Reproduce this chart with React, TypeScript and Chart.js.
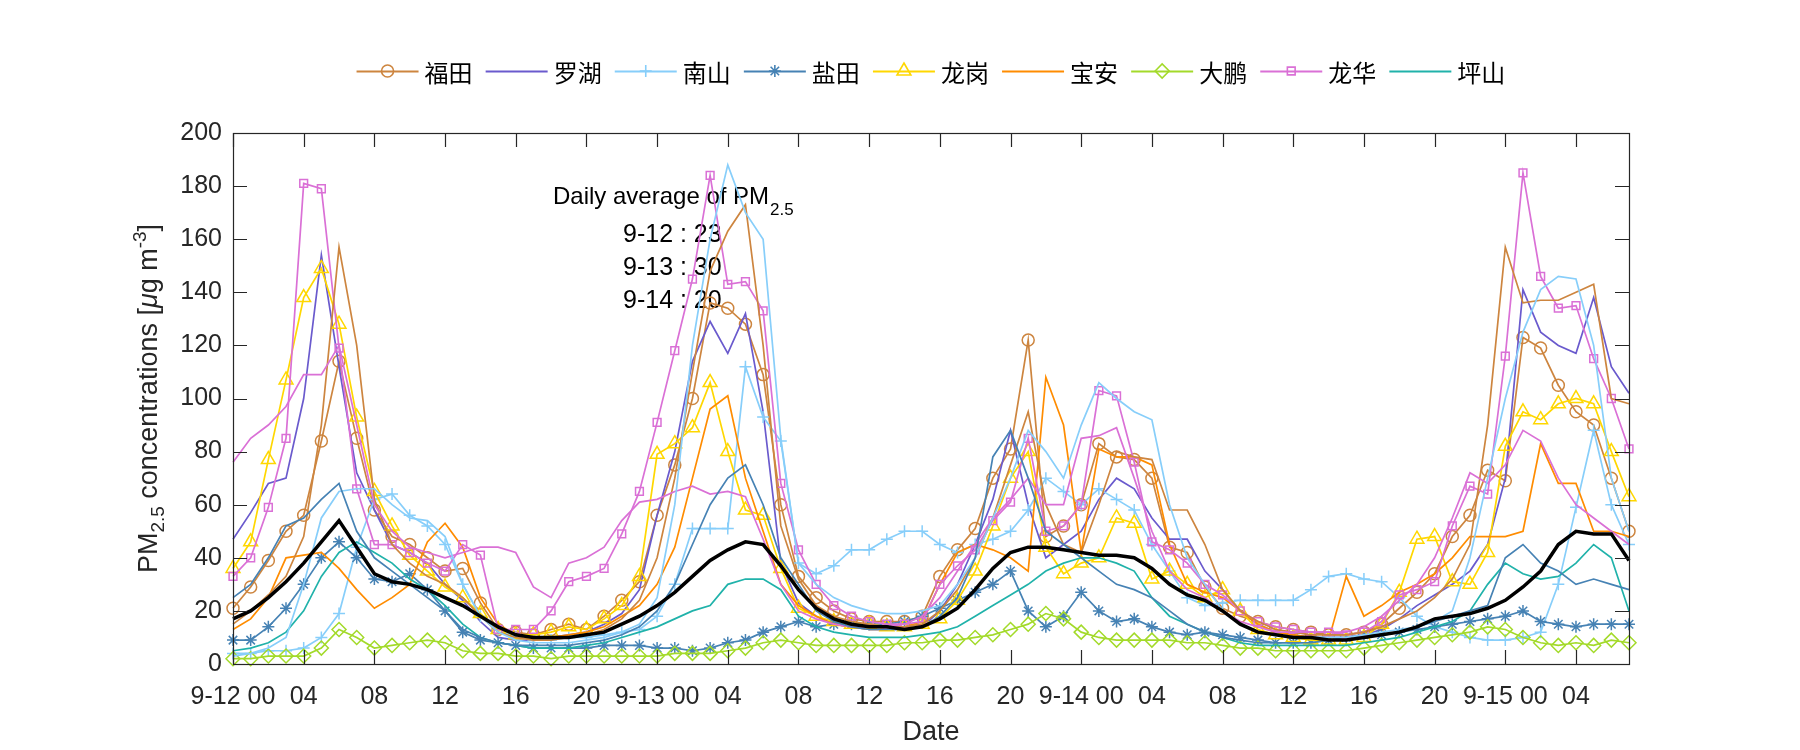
import React, { useEffect, useRef } from "react";
import { Chart, registerables } from "chart.js";

Chart.register(...registerables);

// ---------- DATA (hourly PM2.5, 9-12 00:00 .. 9-15 07:00) ----------
const xTickLabels = [
  "9-12 00", "04", "08", "12", "16", "20",
  "9-13 00", "04", "08", "12", "16", "20",
  "9-14 00", "04", "08", "12", "16", "20",
  "9-15 00", "04",
];

const futian = [
  21, 29, 39, 50, 56, 84, 114, 85,
  58, 48, 45, 40, 35, 36, 23, 13,
  12, 11, 13, 15, 13, 18, 24, 31,
  56, 75, 100, 136, 134, 128, 109, 60,
  33, 25, 20, 17, 16, 16, 16, 18,
  33, 43, 51, 70, 81, 122, 48, 52,
  60, 83, 78, 77, 70, 44, 42, 29,
  21, 18, 16, 14, 13, 12, 11, 11,
  12, 15, 21, 27, 34, 48, 56, 73,
  69, 123, 119, 105, 95, 90, 70, 50,
];
const luohu = [
  47, 57, 68, 70, 100, 154, 112, 72,
  58, 45, 42, 38, 30, 24, 16, 10,
  9, 9, 10, 11, 12, 15, 19, 28,
  56, 80, 114, 129, 117, 132, 95, 38,
  23, 18, 15, 14, 13, 13, 13, 14,
  20, 30, 45, 62, 88, 60, 40, 45,
  50, 62, 70, 66, 55, 47, 47, 35,
  28, 20, 15, 12, 11, 10, 10, 10,
  11, 13, 17, 22, 26, 30, 35, 45,
  70, 141, 125, 120, 117, 138, 112, 102,
];
const nanshan = [
  4, 4, 5, 5, 6, 10, 19, 44,
  62, 64, 56, 52, 45, 30, 18, 13,
  10, 9, 9, 10, 10, 11, 12, 13,
  18, 30, 51, 51, 51, 112, 93, 84,
  38, 34, 37, 43, 43, 47, 50, 50,
  45, 42, 45, 47, 50, 58, 70, 65,
  60, 66, 62, 58, 45, 35, 25, 22,
  23, 24, 24, 24, 24, 28, 33, 34,
  32, 31, 25, 18, 14, 12, 10, 9,
  9, 10, 12, 30, 59, 88, 60, 45,
];
const yantian = [
  9, 9, 14, 21, 30, 40, 46, 40,
  32, 31, 34, 28, 20, 12, 9, 8,
  7, 6, 6, 6, 6, 7, 7, 7,
  6, 6, 5, 6, 8, 9, 12, 14,
  16, 14, 15, 15, 15, 15, 16, 18,
  21, 24, 27, 30, 35, 20, 14, 18,
  27, 20, 16, 17, 14, 12, 11, 12,
  11, 10, 9, 8, 8, 8, 9, 10,
  11, 11, 12, 13, 14, 15, 16, 17,
  18, 20, 16, 15, 14, 15, 15, 15,
];
const longgang = [
  36, 46, 77, 107, 138, 149, 128, 93,
  65, 52, 41, 35, 29, 25, 19, 13,
  11, 11, 12, 14, 13, 17, 22, 33,
  79, 83, 89, 106, 80, 58, 56, 36,
  21, 18, 16, 15, 15, 14, 14, 15,
  17, 24, 35, 52, 70, 80, 44, 34,
  38, 40, 55, 53, 32, 35, 30, 25,
  28, 20, 13, 11, 10, 9, 9, 9,
  10, 15, 27, 47, 48, 31, 30, 42,
  82, 95, 92, 98, 100, 98, 80, 63,
];
const baoan = [
  13, 17, 25, 40, 41, 42, 36, 28,
  21, 25, 30, 46, 53, 44, 25, 15,
  11, 10, 10, 11, 12, 14, 18, 22,
  30, 44, 70, 96, 101, 70, 50, 30,
  22, 18, 15, 14, 13, 13, 14, 16,
  30, 42, 45, 43, 40, 35, 108, 90,
  42, 81, 78, 78, 75, 45, 30, 27,
  25, 20, 15, 12, 11, 10, 9, 33,
  18, 22, 27, 30, 34, 40, 48, 48,
  48, 50, 83, 68, 68, 50, 50, 48,
];
const dapeng = [
  2, 2, 3, 3, 3, 6, 13, 10,
  6, 7, 8, 9, 8, 5, 4, 4,
  3, 3, 2, 3, 3, 3, 3, 3,
  3, 4, 4, 4, 5, 6, 8, 9,
  8, 7, 7, 7, 7, 7, 8, 8,
  9, 9, 10, 11, 13, 15, 19, 17,
  12, 10, 9, 9, 9, 9, 8, 8,
  7, 6, 6, 5, 5, 5, 5, 5,
  6, 7, 8, 9, 10, 11, 12, 14,
  13, 10, 8, 7, 8, 7, 9, 8,
];
const longhua = [
  33, 40, 59, 85, 181, 179, 119, 66,
  45, 45, 42, 38, 35, 45, 41, 13,
  13, 13, 20, 31, 33, 36, 49, 65,
  91, 118, 145, 184, 143, 144, 133, 68,
  43, 30, 22, 18, 16, 15, 15, 16,
  30, 37, 43, 54, 61, 85, 50, 52,
  60, 103, 101, 76, 46, 43, 38, 30,
  26, 20, 16, 14, 13, 12, 12, 11,
  12, 16, 26, 28, 31, 52, 67, 64,
  116, 185, 146, 134, 135, 115, 100, 81,
];
const pingshan = [
  5, 6, 8, 12, 20, 33, 42, 46,
  42, 38, 32, 28, 22, 15, 10, 8,
  7, 6, 6, 6, 7, 8, 10, 12,
  14, 17, 20, 22, 30, 32, 32, 28,
  18, 14, 12, 11, 10, 10, 10, 11,
  12, 14, 18, 22, 26, 30, 35, 38,
  40, 40, 38, 35, 25, 18, 15, 12,
  10, 8, 7, 7, 7, 7, 7, 7,
  8, 9, 10, 12, 14, 16, 20, 30,
  38, 34, 32, 33, 38, 45, 40, 20,
];
// further stations drawn without legend entries
const siteBrown = [
  15, 20, 26, 33, 48, 90, 157, 120,
  62, 45, 38, 33, 30, 25, 18, 12,
  10, 9, 9, 10, 11, 13, 17, 24,
  40, 70, 110, 148, 163, 173, 120, 52,
  32, 22, 18, 16, 15, 14, 14, 15,
  20, 28, 40, 55, 75, 95, 60, 45,
  42, 60, 80, 78, 77, 58, 58, 45,
  28, 20, 16, 13, 12, 11, 11, 11,
  12, 14, 17, 20, 25, 32, 45, 90,
  157, 136, 137, 137, 140, 143, 100, 98,
];
const sitePink = [
  76, 85, 90, 97, 109, 109, 120, 90,
  60, 50, 44, 42, 40, 42, 44, 44,
  42, 29, 25, 38, 40, 44, 54, 61,
  62, 65, 67, 64, 65, 63, 47, 30,
  20, 17, 15, 14, 14, 14, 15, 18,
  25, 35, 45, 55, 62, 70, 60, 60,
  85, 86, 89, 70, 50, 35, 28, 25,
  20, 16, 14, 12, 12, 12, 12, 12,
  14, 18, 24, 30, 40, 55, 72, 68,
  75, 88, 84, 70, 60, 55, 50, 45,
];
const siteSky = [
  3, 4, 6, 10, 30, 55, 65, 66,
  66, 60, 55, 54, 48, 30, 18, 12,
  9, 8, 8, 8, 9, 10, 12, 15,
  25, 60, 120, 160, 188, 170, 160, 85,
  38, 30, 25, 22, 20, 19, 19, 20,
  22, 30, 40, 55, 70, 88, 80, 70,
  90, 106, 100, 95, 92, 60, 40, 30,
  20, 15, 12, 11, 10, 10, 10, 10,
  11, 12, 13, 14, 16, 20, 40, 70,
  100, 125, 141, 146, 145, 120, 70, 50,
];
const siteSteel = [
  25, 30, 40, 52, 55, 62, 68, 50,
  40, 35, 30, 25, 20, 13, 10, 8,
  7, 7, 7, 7, 8, 9, 11, 14,
  20, 30, 45, 60, 70, 75, 60, 40,
  30, 20, 16, 14, 13, 13, 13, 14,
  18, 25, 40, 78, 88, 70, 50, 45,
  40, 35, 30, 28, 25, 20, 15, 12,
  10, 9, 8, 8, 8, 8, 9, 9,
  10, 11, 12, 14, 16, 18, 20, 22,
  40, 45, 38, 35, 30, 32, 30, 28,
];
const cityMean = [
  17, 20, 25, 31, 38, 46, 54, 44,
  34, 31, 30, 28, 25, 22, 18, 14,
  11, 10, 10, 10, 11, 12, 15, 18,
  22, 27, 33, 39, 43, 46, 45, 37,
  28, 21, 17, 15, 14, 14, 13, 14,
  17, 21, 28, 36, 42, 44, 44, 43,
  42, 41, 41, 40, 36, 30, 26, 24,
  20, 15, 12, 11, 10, 10, 9, 9,
  10, 11, 12, 14, 17, 18, 19, 21,
  24, 29, 35, 45, 50, 49, 49, 39,
];

const dailyAverageLines = ["9-12 : 23", "9-13 : 30", "9-14 : 20"];

// ---------- STYLES ----------
type S = { label: string; data: number[]; color: string; point: string; r: number; legend: boolean };
const SERIES: S[] = [
  { label: "福田", data: futian, color: "#CD853F", point: "circle", r: 6, legend: true },
  { label: "罗湖", data: luohu, color: "#6A5ACD", point: "none", r: 0, legend: true },
  { label: "南山", data: nanshan, color: "#87CEFA", point: "cross", r: 6, legend: true },
  { label: "盐田", data: yantian, color: "#4682B4", point: "star", r: 6, legend: true },
  { label: "龙岗", data: longgang, color: "#FFD700", point: "triangle", r: 8, legend: true },
  { label: "宝安", data: baoan, color: "#FF8C00", point: "none", r: 0, legend: true },
  { label: "大鹏", data: dapeng, color: "#A3DA2A", point: "rectRot", r: 7, legend: true },
  { label: "龙华", data: longhua, color: "#DA70D6", point: "rect", r: 5.5, legend: true },
  { label: "坪山", data: pingshan, color: "#20B2AA", point: "none", r: 0, legend: true },
  { label: "s10", data: siteBrown, color: "#CD853F", point: "none", r: 0, legend: false },
  { label: "s11", data: sitePink, color: "#DA70D6", point: "none", r: 0, legend: false },
  { label: "s12", data: siteSky, color: "#87CEFA", point: "none", r: 0, legend: false },
  { label: "s13", data: siteSteel, color: "#4682B4", point: "none", r: 0, legend: false },
];

const AXIS_COLOR = "#262626";
const FONT = "'Liberation Sans', Arial, sans-serif";
const CJK = "'Noto Sans CJK SC', sans-serif";

function drawMarker(ctx: CanvasRenderingContext2D, style: string, x: number, y: number, r: number, color: string) {
  if (style === "none") return;
  ctx.save();
  ctx.strokeStyle = color;
  ctx.lineWidth = 1.6;
  ctx.beginPath();
  const d = r * Math.SQRT1_2;
  switch (style) {
    case "circle": ctx.arc(x, y, r, 0, Math.PI * 2); break;
    case "cross": ctx.moveTo(x - r, y); ctx.lineTo(x + r, y); ctx.moveTo(x, y - r); ctx.lineTo(x, y + r); break;
    case "star":
      ctx.moveTo(x - r, y); ctx.lineTo(x + r, y); ctx.moveTo(x, y - r); ctx.lineTo(x, y + r);
      ctx.moveTo(x - d, y - d); ctx.lineTo(x + d, y + d); ctx.moveTo(x - d, y + d); ctx.lineTo(x + d, y - d); break;
    case "triangle": {
      let a = 0;
      ctx.moveTo(x + Math.sin(a) * r, y - Math.cos(a) * r);
      a += (2 * Math.PI) / 3; ctx.lineTo(x + Math.sin(a) * r, y - Math.cos(a) * r);
      a += (2 * Math.PI) / 3; ctx.lineTo(x + Math.sin(a) * r, y - Math.cos(a) * r);
      ctx.closePath(); break;
    }
    case "rectRot": ctx.moveTo(x - r, y); ctx.lineTo(x, y - r); ctx.lineTo(x + r, y); ctx.lineTo(x, y + r); ctx.closePath(); break;
    case "rect": ctx.rect(x - d, y - d, 2 * d, 2 * d); break;
  }
  ctx.stroke();
  ctx.restore();
}

const matlabPlugin = {
  id: "matlabDecor",
  beforeDatasetsDraw(chart: any) {
    const ctx: CanvasRenderingContext2D = chart.ctx;
    ctx.save();
    ctx.fillStyle = "#000";
    ctx.textBaseline = "alphabetic";
    ctx.textAlign = "left";
    ctx.font = `24px ${FONT}`;
    const head = "Daily average of PM";
    ctx.fillText(head, 553, 204);
    const w = ctx.measureText(head).width;
    ctx.font = `17px ${FONT}`;
    ctx.fillText("2.5", 553 + w + 1, 215);
    ctx.font = `25px ${FONT}`;
    dailyAverageLines.forEach((t, i) => ctx.fillText(t, 623, 242 + i * 33));
    ctx.restore();
  },
  afterDatasetsDraw(chart: any) {
    const ctx: CanvasRenderingContext2D = chart.ctx;
    const a = chart.chartArea;
    const xs = chart.scales.x;
    const ys = chart.scales.y;
    ctx.save();
    ctx.strokeStyle = AXIS_COLOR;
    ctx.lineWidth = 1.2;
    ctx.strokeRect(a.left + 0.5, a.top + 0.5, a.right - a.left, a.bottom - a.top);
    ctx.beginPath();
    const tl = 14;
    xs.ticks.forEach((t: any) => {
      const px = Math.round(xs.getPixelForValue(t.value)) + 0.5;
      ctx.moveTo(px, a.bottom); ctx.lineTo(px, a.bottom - tl);
      ctx.moveTo(px, a.top); ctx.lineTo(px, a.top + tl);
    });
    ys.ticks.forEach((t: any) => {
      const py = Math.round(ys.getPixelForValue(t.value)) + 0.5;
      ctx.moveTo(a.left, py); ctx.lineTo(a.left + tl, py);
      ctx.moveTo(a.right, py); ctx.lineTo(a.right - tl, py);
    });
    ctx.stroke();
    ctx.restore();
  },
  afterDraw(chart: any) {
    const ctx: CanvasRenderingContext2D = chart.ctx;
    const a = chart.chartArea;
    const cx = (a.left + a.right) / 2;
    ctx.save();
    ctx.fillStyle = AXIS_COLOR;
    ctx.font = `27px ${FONT}`;
    ctx.textAlign = "center";
    ctx.textBaseline = "alphabetic";
    ctx.fillText("Date", cx, 740);

    const parts: { t: string; f: string; dy: number }[] = [
      { t: "PM", f: `27px ${FONT}`, dy: 0 },
      { t: "2.5", f: `19px ${FONT}`, dy: 7 },
      { t: " concentrations [", f: `27px ${FONT}`, dy: 0 },
      { t: "\u03BC", f: `italic 27px ${FONT}`, dy: 0 },
      { t: "g m", f: `27px ${FONT}`, dy: 0 },
      { t: "-3", f: `19px ${FONT}`, dy: -11 },
      { t: "]", f: `27px ${FONT}`, dy: 0 },
    ];
    let total = 0;
    const widths = parts.map((p) => { ctx.font = p.f; const w = ctx.measureText(p.t).width; total += w; return w; });
    ctx.translate(157, (a.top + a.bottom) / 2);
    ctx.rotate(-Math.PI / 2);
    ctx.textAlign = "left";
    let x0 = -total / 2;
    parts.forEach((p, i) => { ctx.font = p.f; ctx.fillText(p.t, x0, p.dy); x0 += widths[i]; });
    ctx.restore();

    ctx.save();
    const items = SERIES.filter((s) => s.legend);
    const lineLen = 62, gap = 6, itemW = 129.1;
    const totalW = items.length * itemW - 13;
    let lx = cx - totalW / 2;
    const ly = 71;
    ctx.font = `24px ${CJK}`;
    ctx.textBaseline = "middle";
    ctx.textAlign = "left";
    items.forEach((s) => {
      ctx.strokeStyle = s.color;
      ctx.lineWidth = 2;
      ctx.beginPath();
      ctx.moveTo(lx, ly + 0.5); ctx.lineTo(lx + lineLen, ly + 0.5);
      ctx.stroke();
      drawMarker(ctx, s.point, lx + lineLen / 2, ly, s.r, s.color);
      ctx.fillStyle = "#000";
      ctx.fillText(s.label, lx + lineLen + gap, ly + 2);
      lx += itemW;
    });
    ctx.restore();
  },
};

export default function App() {
  const ref = useRef<HTMLCanvasElement | null>(null);
  useEffect(() => {
    if (!ref.current) return;
    const n = SERIES.length;
    const datasets: any[] = SERIES.map((s, i) => ({
      label: s.label,
      data: s.data.map((v, k) => ({ x: k, y: v })),
      borderColor: s.color,
      backgroundColor: "rgba(0,0,0,0)",
      borderWidth: 1.7,
      pointStyle: s.point === "none" ? "circle" : s.point,
      pointRadius: s.point === "none" ? 0 : s.r,
      pointBorderWidth: 1.5,
      pointBorderColor: s.color,
      pointBackgroundColor: "rgba(0,0,0,0)",
      tension: 0,
      clip: false,
      order: n - i + 1,
    }));
    datasets.push({
      label: "mean",
      data: cityMean.map((v, k) => ({ x: k, y: v })),
      borderColor: "#000",
      borderWidth: 3.5,
      pointRadius: 0,
      tension: 0,
      clip: false,
      order: 0,
    });
    const chart = new Chart(ref.current, {
      type: "line",
      data: { datasets },
      plugins: [matlabPlugin],
      options: {
        animation: false,
        responsive: false,
        devicePixelRatio: 1,
        layout: { padding: { left: 0, right: 171, top: 133, bottom: 0 } },
        plugins: { legend: { display: false }, tooltip: { enabled: false }, title: { display: false } },
        scales: {
          x: {
            type: "linear",
            min: 0,
            max: 79,
            grid: { display: false, drawTicks: false },
            border: { display: false },
            afterBuildTicks: (s: any) => { s.ticks = s.ticks.filter((t: any) => t.value % 4 === 0); },
            afterFit: (s: any) => { s.height = 86; },
            ticks: {
              stepSize: 4,
              includeBounds: false,
              autoSkip: false,
              maxRotation: 0,
              padding: 18,
              color: AXIS_COLOR,
              font: { family: FONT, size: 25 },
              callback: (v: any) => xTickLabels[Math.round(Number(v) / 4)] ?? "",
            },
          },
          y: {
            min: 0,
            max: 200,
            grid: { display: false, drawTicks: false },
            border: { display: false },
            afterFit: (s: any) => { s.width = 233; },
            ticks: {
              stepSize: 20,
              padding: 11,
              color: AXIS_COLOR,
              font: { family: FONT, size: 25 },
            },
          },
        },
      },
    } as any);
    return () => chart.destroy();
  }, []);
  return (
    <div style={{ position: "absolute", left: 0, top: 0, width: 1800, height: 750, background: "#fff" }}>
      <canvas ref={ref} width={1800} height={750} />
    </div>
  );
}
